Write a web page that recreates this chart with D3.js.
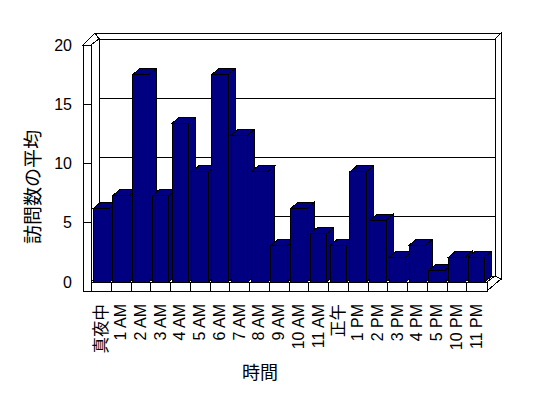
<!DOCTYPE html>
<html>
<head>
<meta charset="utf-8">
<script src="https://cdn.jsdelivr.net/npm/d3@7"></script>
<style>
  body { margin: 0; background: #fff; }
  svg { display: block; }
</style>
</head>
<body>
<div id="chart"></div>
<script>
// categories (hour of day) and average visit counts
const hours = ["真夜中", "1 AM", "2 AM", "3 AM", "4 AM", "5 AM", "6 AM", "7 AM", "8 AM", "9 AM",
    "10 AM", "11 AM", "正午", "1 PM", "2 PM", "3 PM", "4 PM", "5 PM", "10 PM", "11 PM"]
const avgVisits = [6.2, 7.3, 17.5, 7.3, 13.4, 9.3, 17.5, 12.4, 9.3, 3.1,
    6.2, 4.1, 3.1, 9.3, 5.2, 2.1, 3.1, 1.0, 2.1, 2.1]
const yTicks = [0, 5, 10, 15, 20]

const width = 548, height = 398
const navy = '#000080'

// front plane of the plot box
const left = 91, right = 486, wallW = 8, floorH = 9
// depth offsets: inner depth and bar depth
const depth = {dx: 8, dy: -6}
const bar = {dx: 7, dy: -6}

const y = d3.scaleLinear().domain([0, 20]).range([282, 45])
const x = d3.scaleBand().domain(hours).range([left, right])

const svg = d3.select('#chart').append('svg')
    .attr('width', width)
    .attr('height', height)
    .attr('shape-rendering', 'crispEdges')

const g = svg.append('g')
    .attr('stroke', '#000')
    .attr('stroke-width', 1)
    .attr('fill', '#fff')

const poly = pts => 'M' + pts.map(p => p.join(',')).join('L') + 'Z'
const y0 = y(0), yTop = y(20)
const bx = left + depth.dx, by = depth.dy   // back wall origin shift
const farR = right + 1 + depth.dx           // back wall inner right edge

// back wall inner face
g.append('path').attr('d', poly([[bx, yTop + by], [farR, yTop + by], [farR, y0 + by], [bx, y0 + by]]))

// gridlines: left wall inner face + back wall
yTicks.filter(v => v > 0 && v < 20).forEach(v => {
    g.append('path').attr('fill', 'none')
        .attr('d', `M${left},${y(v)}L${bx},${y(v) + by}L${farR},${y(v) + by}`)
})

// back wall top strip and right side
g.append('path').attr('d', poly([[left - wallW + 12, yTop - 12], [farR + 6, yTop - 12], [farR, yTop + by], [bx, yTop + by]]))
g.append('path').attr('d', poly([[farR, yTop + by], [farR + 6, yTop - 12], [farR + 6, y0 - 3], [farR, y0 + by]]))

// left wall inner face and top
g.append('path').attr('d', poly([[left, yTop], [bx, yTop + by], [bx, y0 + by], [left, y0]]))
g.append('path').attr('d', poly([[left - wallW, yTop], [left - wallW + 12, yTop - 12], [bx, yTop + by], [left, yTop]]))

// floor: top, right side, front
const fr = right + 1
g.append('path').attr('d', poly([[left, y0], [fr, y0], [fr + depth.dx, y0 + by], [bx, y0 + by]]))
g.append('path').attr('d', poly([[fr, y0], [fr + depth.dx, y0 + by], [farR + 6, y0 - 3], [fr, y0 + floorH]]))
g.append('rect')
    .attr('x', left - wallW).attr('y', y0)
    .attr('width', fr - left + wallW).attr('height', floorH)

// floor front category dividers
g.selectAll('line.div')
    .data(hours.slice(1))
    .join('line')
    .attr('class', 'div')
    .attr('x1', d => Math.round(x(d)) + 0.5)
    .attr('x2', d => Math.round(x(d)) + 0.5)
    .attr('y1', y0)
    .attr('y2', y0 + floorH)

// bars, left to right so each front covers its neighbour's side
const bw = x.bandwidth() - 3.4
const bars = g.selectAll('g.bar')
    .data(hours.map((h, i) => ({hour: h, value: avgVisits[i]})))
    .join('g')
    .attr('class', 'bar')
    .attr('fill', navy)

bars.append('path')  // side
    .attr('d', d => {
        const x0 = x(d.hour) + 2.2, x1 = x0 + bw, t = y(d.value)
        return poly([[x1, t], [x1 + bar.dx, t + bar.dy], [x1 + bar.dx, y0 + bar.dy], [x1, y0]])
    })
bars.append('path')  // top
    .attr('d', d => {
        const x0 = x(d.hour) + 2.2, x1 = x0 + bw, t = y(d.value)
        return poly([[x0, t], [x0 + bar.dx, t + bar.dy], [x1 + bar.dx, t + bar.dy], [x1, t]])
    })
bars.append('rect')  // front
    .attr('x', d => x(d.hour) + 2.2)
    .attr('y', d => y(d.value))
    .attr('width', bw)
    .attr('height', d => y0 - y(d.value))

// left wall front face with ticks
g.append('rect')
    .attr('x', left - wallW).attr('y', yTop)
    .attr('width', wallW).attr('height', y0 + floorH - yTop)
g.selectAll('line.tick')
    .data(yTicks.filter(v => v > 0 && v < 20))
    .join('line')
    .attr('class', 'tick')
    .attr('x1', left - wallW).attr('x2', left)
    .attr('y1', d => y(d)).attr('y2', d => y(d))

// y tick labels
svg.append('g')
    .attr('font-family', 'Liberation Sans, Arial, sans-serif')
    .attr('font-size', 16)
    .attr('fill', '#000')
    .attr('text-anchor', 'end')
    .selectAll('text')
    .data(yTicks)
    .join('text')
    .attr('x', 72)
    .attr('y', d => y(d))
    .attr('dominant-baseline', 'central')
    .text(d => d)

// category labels, rotated
svg.append('g')
    .attr('font-family', 'Liberation Sans, Noto Sans CJK JP, sans-serif')
    .attr('fill', '#000')
    .attr('text-anchor', 'end')
    .selectAll('text')
    .data(hours)
    .join('text')
    .attr('font-size', d => /[^\x00-\x7f]/.test(d) ? 16.5 : 16)
    .attr('dominant-baseline', 'central')
    .attr('transform', d => `translate(${x(d) + x.bandwidth() / 2},304) rotate(-90)`)
    .text(d => d)

// axis titles
svg.append('text')
    .attr('font-family', 'Noto Sans CJK JP, sans-serif')
    .attr('font-size', 19)
    .attr('fill', '#000')
    .attr('text-anchor', 'middle')
    .attr('dominant-baseline', 'central')
    .attr('transform', 'translate(31,187) rotate(-90)')
    .text('訪問数の平均')

svg.append('text')
    .attr('font-family', 'Noto Sans CJK JP, sans-serif')
    .attr('font-size', 18)
    .attr('fill', '#000')
    .attr('text-anchor', 'middle')
    .attr('dominant-baseline', 'central')
    .attr('x', 260)
    .attr('y', 371)
    .text('時間')
</script>
</body>
</html>
